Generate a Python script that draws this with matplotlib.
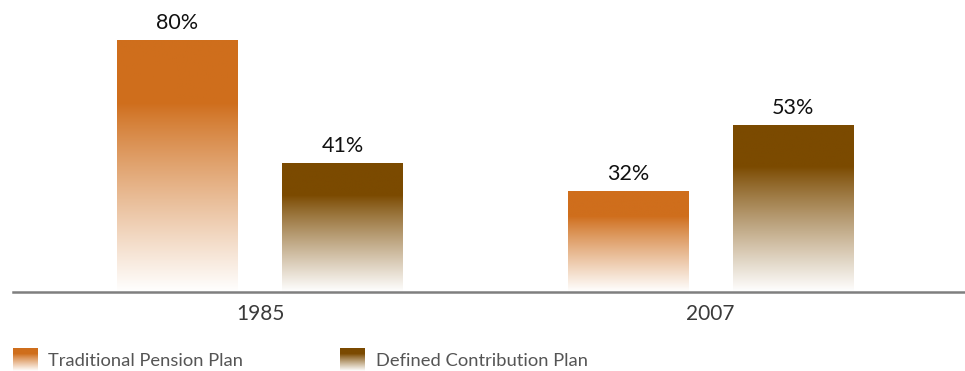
import numpy as np
import matplotlib
matplotlib.use("Agg")
import matplotlib.pyplot as plt
from matplotlib.colors import to_rgb

plt.rcParams['font.family'] = ['Lato', 'DejaVu Sans']

years = ["1985", "2007"]
series_names = ["Traditional Pension Plan", "Defined Contribution Plan"]
traditional = [80, 32]
defined_contrib = [41, 53]
series_values = [traditional, defined_contrib]
colors = ["#CF6E1C", "#7B4A00"]

def gradient_img(color, n=256):
    c = np.array(to_rgb(color))
    t = np.linspace(0, 1, n)[:, None]
    mix = np.clip((t - 0.25) / 0.75, 0, 1) ** 0.9
    rgb = c[None, :] * (1 - mix) + np.ones(3)[None, :] * mix
    return rgb[:, None, :]

fig = plt.figure(figsize=(9.65, 3.71), dpi=100)
ax = fig.add_axes([13 / 965, 79 / 371, 1 - 13 / 965, 292 / 371])

scale = 450.5
width = 121 / scale
offsets = [-82.5 / scale, 82.5 / scale]
x = np.arange(len(years))
for s, (vals, col) in enumerate(zip(series_values, colors)):
    bars = ax.bar(x + offsets[s], vals, width, color="none", edgecolor="none")
    for b, v in zip(bars, vals):
        x0 = b.get_x()
        im = ax.imshow(gradient_img(col), extent=[x0, x0 + b.get_width(), 0, v],
                       aspect="auto", origin="upper", interpolation="bilinear", zorder=2)
        im.set_clip_path(b)
        ax.annotate(f"{v}%", (b.get_x() + b.get_width() / 2, v), xytext=(0, 5),
                    textcoords="offset points", ha="center", va="bottom",
                    fontsize=15.5, color="#111111")

ax.set_xlim((13 - 260) / scale, (965 - 260) / scale)
ax.set_ylim(0, 292 / 3.145)
for sp in ["top", "right", "left"]:
    ax.spines[sp].set_visible(False)
ax.spines["bottom"].set_color("#7f7f7f")
ax.spines["bottom"].set_linewidth(1.8)
ax.set_yticks([])
ax.set_xticks(x)
ax.set_xticklabels(years, fontsize=15, color="#3a3a3a")
ax.tick_params(axis="x", length=0, pad=9)

# legend
legend_x = [13, 340]
text_x = [48, 376]
for name, col, sx, tx in zip(series_names, colors, legend_x, text_x):
    lax = fig.add_axes([sx / 965, 0, 25 / 965, 23 / 371])
    lax.imshow(gradient_img(col), aspect="auto", extent=[0, 1, 0, 1], origin="upper")
    lax.axis("off")
    fig.text(tx / 965, 1 - 361 / 371, name, fontsize=13.2, color="#555555",
             ha="left", va="center")

fig.savefig("out.png", dpi=100, facecolor="white")
